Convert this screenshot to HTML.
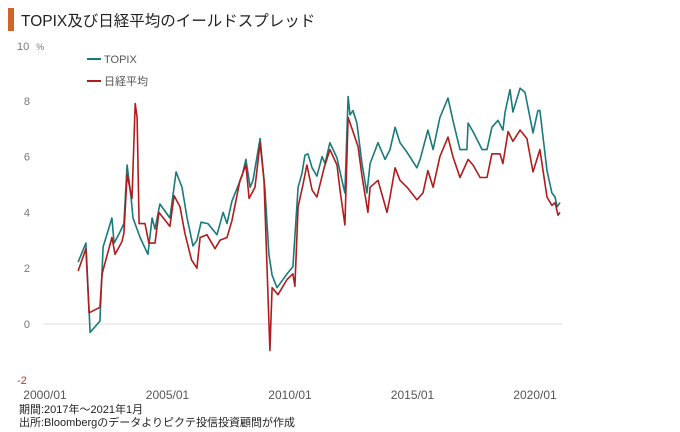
<!DOCTYPE html>
<html><head><meta charset="utf-8"><style>
body{margin:0;background:#fff;}
svg{display:block;font-family:"Liberation Sans","Noto Sans CJK JP",sans-serif;}
</style></head><body>
<svg id="chart" width="680" height="432" viewBox="0 0 680 432">
<rect x="8" y="8" width="6" height="23" fill="#d0632a"/>
<text x="21" y="26" font-size="15.5" fill="#222">TOPIX及び日経平均のイールドスプレッド</text>
<text x="17" y="50" font-size="11" fill="#777">10 <tspan font-size="9" dx="4">%</tspan></text>
<g>
<line x1="87" y1="59" x2="101" y2="59" stroke="#1a7a7a" stroke-width="2"/>
<text x="104" y="63" font-size="11" fill="#555">TOPIX</text>
<line x1="87" y1="81" x2="101" y2="81" stroke="#b01c1c" stroke-width="2"/>
<text x="104" y="85" font-size="11" fill="#555">日経平均</text>
</g>
<g id="axes"></g>
<g id="series"></g>
<text x="19" y="413" font-size="11" fill="#222">期間:2017年～2021年1月</text>
<text x="19" y="426" font-size="11" fill="#222">出所:Bloombergのデータよりピクテ投信投資顧問が作成</text>
</svg>
<script>
const yTicks=[8,6,4,2,0];
const yTickLabels=["8","6","4","2","0"];
const xTicks=[2000,2005,2010,2015,2020];
const xTickLabels=["2000/01","2005/01","2010/01","2015/01","2020/01"];
const topixDates=[2001.35,2001.67,2001.84,2002.24,2002.37,2002.73,2002.82,2003.06,2003.22,2003.35,2003.51,2003.59,2003.88,2004.20,2004.37,2004.49,2004.69,2005.10,2005.35,2005.59,2005.80,2006.04,2006.20,2006.37,2006.65,2007.02,2007.27,2007.43,2007.63,2008.04,2008.20,2008.37,2008.49,2008.78,2008.98,2009.14,2009.27,2009.47,2009.88,2010.12,2010.33,2010.49,2010.61,2010.73,2010.90,2011.10,2011.31,2011.43,2011.63,2011.92,2012.12,2012.24,2012.37,2012.45,2012.57,2012.73,2012.94,2013.14,2013.27,2013.59,2013.88,2014.08,2014.29,2014.49,2014.78,2015.18,2015.31,2015.63,2015.84,2016.12,2016.45,2016.65,2016.94,2017.22,2017.27,2017.47,2017.84,2018.04,2018.24,2018.49,2018.69,2018.78,2018.98,2019.10,2019.39,2019.59,2019.92,2020.12,2020.20,2020.49,2020.69,2020.82,2020.90,2021.02];
const topixValues=[2.22,2.9,-0.3,0.1,2.76,3.8,2.9,3.3,3.6,5.7,4.55,3.8,3.1,2.5,3.8,3.4,4.3,3.8,5.45,4.9,3.8,2.8,3.0,3.65,3.6,3.2,4.0,3.6,4.4,5.3,5.9,4.9,5.15,6.65,4.8,2.5,1.75,1.3,1.8,2.05,4.9,5.4,6.05,6.1,5.6,5.3,6.0,5.75,6.5,5.95,5.15,4.7,8.15,7.5,7.65,7.2,5.75,4.7,5.75,6.5,5.9,6.25,7.05,6.5,6.15,5.6,5.9,6.95,6.25,7.4,8.1,7.3,6.25,6.25,7.2,6.9,6.25,6.25,7.05,7.3,6.95,7.6,8.4,7.6,8.45,8.3,6.85,7.65,7.65,5.5,4.7,4.55,4.2,4.35];
const nikkeiDates=[2001.35,2001.67,2001.80,2002.24,2002.33,2002.73,2002.86,2003.14,2003.22,2003.35,2003.55,2003.68,2003.76,2003.84,2004.08,2004.24,2004.49,2004.65,2005.10,2005.27,2005.51,2005.71,2005.98,2006.20,2006.33,2006.61,2006.94,2007.14,2007.43,2007.63,2007.96,2008.20,2008.33,2008.57,2008.78,2008.94,2009.18,2009.27,2009.51,2009.88,2010.12,2010.20,2010.33,2010.53,2010.69,2010.90,2011.10,2011.39,2011.63,2011.92,2012.04,2012.24,2012.37,2012.53,2012.78,2012.94,2013.18,2013.27,2013.59,2013.96,2014.08,2014.29,2014.49,2014.78,2015.18,2015.43,2015.63,2015.84,2016.12,2016.45,2016.65,2016.94,2017.27,2017.47,2017.76,2018.04,2018.24,2018.57,2018.69,2018.90,2019.10,2019.39,2019.67,2019.92,2020.20,2020.49,2020.69,2020.82,2020.94,2021.02];
const nikkeiValues=[1.9,2.7,0.4,0.6,1.8,3.1,2.5,2.95,3.25,5.35,4.5,7.9,7.4,3.6,3.6,2.9,2.9,4.0,3.5,4.6,4.2,3.25,2.3,2.0,3.1,3.2,2.7,3.0,3.1,3.7,5.15,5.7,4.5,4.9,6.5,5.15,-0.95,1.3,1.05,1.6,1.8,1.35,4.2,5.0,5.7,4.8,4.55,5.6,6.25,5.7,4.8,3.55,7.4,7.0,6.35,5.3,4.0,4.9,5.15,4.0,4.55,5.6,5.15,4.9,4.45,4.7,5.5,4.9,6.0,6.7,6.0,5.25,5.9,5.7,5.25,5.25,6.1,6.1,5.75,6.9,6.55,6.95,6.65,5.45,6.25,4.55,4.25,4.35,3.9,4.0];

const NS='http://www.w3.org/2000/svg';
const xScale=v=>45+(v-2000)*24.5;
const yScale=v=>324-v*27.9;
const axes=document.getElementById('axes');
const series=document.getElementById('series');
function mk(tag,attrs,parent){const e=document.createElementNS(NS,tag);for(const k in attrs)e.setAttribute(k,attrs[k]);parent.appendChild(e);return e;}

const grid=mk('line',{x1:43,x2:562,y1:yScale(0),y2:yScale(0),stroke:'#dcdcdc','stroke-width':1},axes);


yTicks.forEach((t,i)=>{
  const tx=mk('text',{x:30,y:yScale(t)+4,'font-size':11,fill:'#777','text-anchor':'end'},axes);
  tx.textContent=yTickLabels[i];
  
  
});
const neg=mk('text',{x:17,y:yScale(-2)+4,'font-size':11,fill:'#c0392b'},axes);
neg.textContent='-2';


xTicks.forEach((t,i)=>{
  const tx=mk('text',{x:xScale(t),y:399,'font-size':12,fill:'#555','text-anchor':'middle'},axes);
  tx.textContent=xTickLabels[i];
  
  
});
function line(dates,vals,color,name){
  const d=dates.map((t,i)=>(i?'L':'M')+xScale(t).toFixed(1)+','+yScale(vals[i]).toFixed(1)).join('');
  const p=mk('path',{d:d,fill:'none',stroke:color,'stroke-width':1.6,'stroke-linejoin':'round'},series);
  
  
}
line(topixDates,topixValues,'#1a7a7a','topix-line');
line(nikkeiDates,nikkeiValues,'#b01c1c','nikkei-line');
</script>
</body></html>
